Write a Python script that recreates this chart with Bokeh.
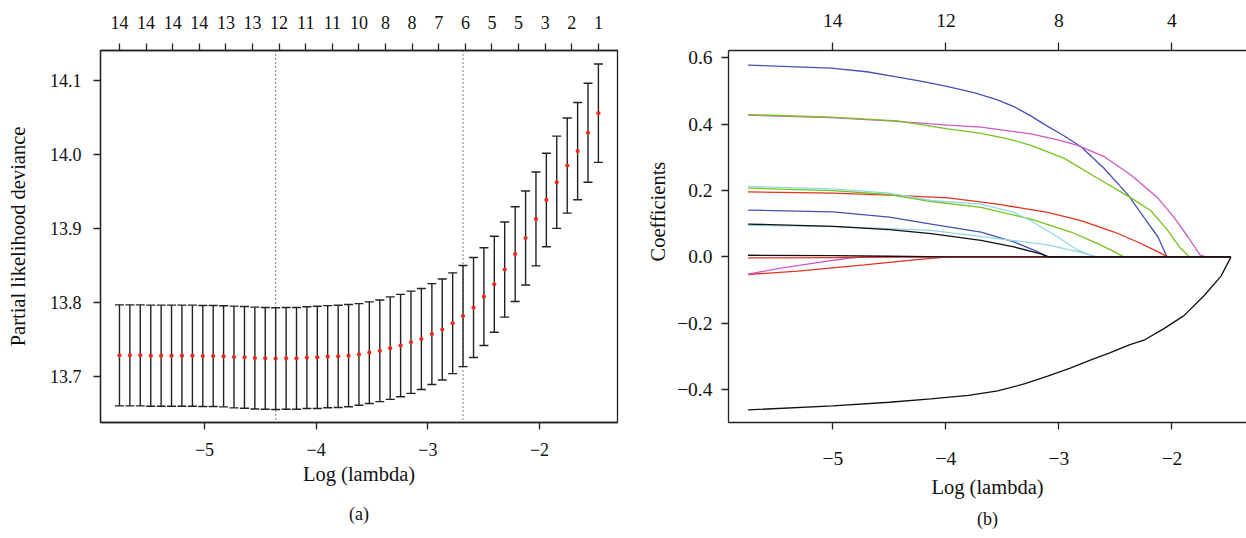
from bokeh.plotting import figure
from bokeh.models import (Range1d, LinearAxis, FixedTicker, CustomJSTickFormatter,
                          Span, Whisker, TeeHead, ColumnDataSource, Title)
from bokeh.layouts import row
from bokeh.embed import file_html
from bokeh.resources import INLINE

FONT = "Liberation Serif"

# ---------------- Panel (a): cross-validation curve ----------------
log_lambda = [-5.761, -5.668, -5.575, -5.481, -5.388, -5.295, -5.202, -5.108, -5.015, -4.922,
              -4.829, -4.736, -4.642, -4.549, -4.456, -4.363, -4.269, -4.176, -4.083, -3.990,
              -3.897, -3.803, -3.710, -3.617, -3.524, -3.430, -3.337, -3.244, -3.151, -3.058,
              -2.964, -2.871, -2.778, -2.685, -2.591, -2.498, -2.405, -2.312, -2.218, -2.125,
              -2.032, -1.939, -1.846, -1.752, -1.659, -1.566, -1.473]
cv_mean = [13.7280, 13.7280, 13.7280, 13.7276, 13.7276, 13.7276, 13.7276, 13.7276, 13.7271, 13.7271,
           13.7267, 13.7258, 13.7253, 13.7244, 13.7240, 13.7236, 13.7240, 13.7240, 13.7249, 13.7253,
           13.7262, 13.7267, 13.7276, 13.7293, 13.7316, 13.7342, 13.7378, 13.7413, 13.7458, 13.7502,
           13.7569, 13.7631, 13.7716, 13.7813, 13.7929, 13.8076, 13.8244, 13.8444, 13.8653, 13.8871,
           13.9129, 13.9387, 13.9627, 13.9853, 14.0049, 14.0298, 14.0564]
cv_sd = [0.0685, 0.0685, 0.0685, 0.0685, 0.0685, 0.0685, 0.0685, 0.0685, 0.0685, 0.0685,
         0.0685, 0.0690, 0.0690, 0.0690, 0.0690, 0.0690, 0.0690, 0.0690, 0.0690, 0.0693,
         0.0693, 0.0693, 0.0693, 0.0689, 0.0689, 0.0689, 0.0695, 0.0694, 0.0693, 0.0685,
         0.0684, 0.0685, 0.0683, 0.0685, 0.0678, 0.0662, 0.0651, 0.0645, 0.0642, 0.0638,
         0.0636, 0.0634, 0.0625, 0.0645, 0.0660, 0.0671, 0.0667]
top_a_pos = [-5.761, -5.523, -5.285, -5.046, -4.808, -4.570, -4.332, -4.093, -3.855, -3.617,
             -3.379, -3.141, -2.902, -2.664, -2.426, -2.188, -1.949, -1.711, -1.473]
top_a_labels = ["14", "14", "14", "14", "13", "13", "12", "11", "11", "10",
                "8", "8", "7", "6", "5", "5", "3", "2", "1"]
log_lambda_min = -4.363
log_lambda_1se = -2.685
x_ticks = [-5, -4, -3, -2]
y_ticks_a = [13.7, 13.8, 13.9, 14.0, 14.1]

# ---------------- Panel (b): coefficient paths ----------------
blue_x = [-5.75, -5.018, -4.7, -4.425, -4.2, -3.982, -3.752, -3.55, -3.398, -3.25, -3.133, -2.956, -2.805, -2.602, -2.389, -2.248, -2.124, -2.044, -1.478]
blue_y = [0.578, 0.569, 0.558, 0.542, 0.528, 0.513, 0.495, 0.474, 0.453, 0.425, 0.400, 0.365, 0.332, 0.267, 0.187, 0.119, 0.060, 0.0, 0.0]
magenta_x = [-5.75, -5.018, -4.5, -3.982, -3.69, -3.248, -3.0, -2.835, -2.599, -2.363, -2.127, -1.982, -1.858, -1.752, -1.70, -1.478]
magenta_y = [0.427, 0.420, 0.410, 0.397, 0.391, 0.371, 0.352, 0.336, 0.302, 0.247, 0.178, 0.119, 0.060, 0.006, 0.0, 0.0]
green_x = [-5.75, -5.018, -4.43, -3.985, -3.69, -3.45, -3.248, -2.953, -2.658, -2.363, -2.186, -2.038, -1.935, -1.847, -1.478]
green_y = [0.429, 0.421, 0.410, 0.386, 0.372, 0.356, 0.336, 0.297, 0.237, 0.178, 0.139, 0.080, 0.030, 0.0, 0.0]
red_x = [-5.75, -5.0, -4.5, -3.98, -3.542, -3.1, -2.805, -2.511, -2.304, -2.127, -2.038, -1.478]
red_y = [0.196, 0.192, 0.186, 0.178, 0.159, 0.134, 0.109, 0.075, 0.045, 0.016, 0.0, 0.0]
green2_x = [-5.75, -5.0, -4.5, -4.13, -3.69, -3.248, -2.894, -2.658, -2.511, -2.427, -1.478]
green2_y = [0.207, 0.200, 0.188, 0.167, 0.149, 0.114, 0.075, 0.040, 0.016, 0.0, 0.0]
cyan_x = [-5.75, -5.0, -4.5, -4.13, -3.69, -3.398, -3.248, -3.01, -2.835, -2.688, -1.478]
cyan_y = [0.212, 0.205, 0.192, 0.170, 0.159, 0.134, 0.109, 0.060, 0.021, 0.0, 0.0]
blue2_x = [-5.75, -5.0, -4.5, -4.13, -3.69, -3.398, -3.19, -3.1, -1.478]
blue2_y = [0.141, 0.136, 0.120, 0.099, 0.075, 0.045, 0.016, 0.0, 0.0]
cyan2_x = [-5.75, -5.0, -4.5, -4.13, -3.542, -3.1, -2.835, -2.658, -1.478]
cyan2_y = [0.095, 0.092, 0.085, 0.080, 0.055, 0.036, 0.016, 0.0, 0.0]
black2_x = [-5.75, -5.0, -4.5, -4.13, -3.69, -3.398, -3.16, -3.09, -1.478]
black2_y = [0.099, 0.092, 0.082, 0.070, 0.050, 0.030, 0.009, 0.0, 0.0]
black3_x = [-5.75, -5.0, -4.5, -4.0, -1.478]
black3_y = [0.005, 0.004, 0.002, 0.0, 0.0]
red_nz_x = [-5.75, -5.0, -4.3, -1.478]
red_nz_y = [-0.003, -0.002, 0.0, 0.0]
red_low_x = [-5.75, -5.31, -4.72, -4.28, -3.98, -1.478]
red_low_y = [-0.053, -0.043, -0.024, -0.009, 0.0, 0.0]
mag_low_x = [-5.75, -5.46, -5.165, -4.87, -4.72, -1.478]
mag_low_y = [-0.052, -0.034, -0.019, -0.004, 0.0, 0.0]
black_bot_x = [-5.75, -5.0, -4.5, -4.133, -3.8, -3.542, -3.3, -3.1, -2.9, -2.717, -2.55, -2.378,
               -2.248, -2.071, -1.894, -1.717, -1.566, -1.478]
black_bot_y = [-0.461, -0.449, -0.438, -0.428, -0.417, -0.404, -0.382, -0.359, -0.335, -0.310, -0.289, -0.265,
               -0.251, -0.216, -0.177, -0.117, -0.058, 0.0]
top_b_pos = [-5, -4, -3, -2]
top_b_labels = ["14", "12", "8", "4"]
y_ticks_b = [-0.4, -0.2, 0.0, 0.2, 0.4, 0.6]

C_BLUE = "#4352b4"
C_MAG = "#d257c6"
C_GREEN = "#74c41a"
C_RED = "#e5321f"
C_CYAN = "#93d6e8"
C_BLACK = "#111111"

MINUS_FMT = "return (tick < 0 ? '\\u2212' : '') + Math.abs(tick).toFixed(%d);"
LABEL_FMT = """
let best = 0;
for (let i = 0; i < pos.length; i++) {
  if (Math.abs(pos[i] - tick) < Math.abs(pos[best] - tick)) { best = i; }
}
return labs[best];
"""


def style_axis(ax, size, tick_out=7, standoff=9):
    ax.major_label_text_font = FONT
    ax.major_label_text_font_size = size
    ax.major_label_text_color = "#111111"
    ax.axis_label_text_font = FONT
    ax.axis_label_text_font_style = "normal"
    ax.axis_label_text_font_size = "20.5px"
    ax.axis_label_text_color = "#111111"
    ax.major_tick_in = 0
    ax.major_tick_out = tick_out
    ax.minor_tick_in = 0
    ax.minor_tick_out = 0
    ax.major_tick_line_color = "#222222"
    ax.major_tick_line_width = 1.3
    ax.axis_line_color = "#222222"
    ax.axis_line_width = 1.3
    ax.major_label_standoff = standoff


# ---- figure a ----
pa = figure(width=628, height=538, x_range=Range1d(-5.931, -1.302), y_range=Range1d(13.637, 14.1413),
            output_backend="svg", toolbar_location=None,
            min_border_left=100, min_border_right=11, min_border_top=49, min_border_bottom=111)
pa.grid.visible = False
pa.outline_line_color = "#222222"
pa.outline_line_width = 1.3
pa.background_fill_color = "white"
pa.border_fill_color = "white"

pa.xaxis.ticker = FixedTicker(ticks=x_ticks)
pa.xaxis.formatter = CustomJSTickFormatter(code=MINUS_FMT % 0)
pa.xaxis.axis_label = "Log (lambda)"
pa.yaxis.ticker = FixedTicker(ticks=y_ticks_a)
pa.yaxis.formatter = CustomJSTickFormatter(code=MINUS_FMT % 1)
pa.yaxis.axis_label = "Partial likelihood deviance"
style_axis(pa.xaxis[0], "18px", 7, 13)
style_axis(pa.yaxis[0], "18px", 7, 12)
pa.xaxis.axis_label_standoff = 4
pa.yaxis.axis_label_standoff = 18

top_a = LinearAxis(ticker=FixedTicker(ticks=top_a_pos),
                   formatter=CustomJSTickFormatter(args=dict(pos=top_a_pos, labs=top_a_labels), code=LABEL_FMT))
style_axis(top_a, "18px", 7, 15)
pa.add_layout(top_a, "above")

src_a = ColumnDataSource(dict(x=log_lambda, m=cv_mean,
                              up=[m + s for m, s in zip(cv_mean, cv_sd)],
                              lo=[m - s for m, s in zip(cv_mean, cv_sd)]))
wh = Whisker(source=src_a, base="x", upper="up", lower="lo", dimension="height",
             line_color="#222222", line_width=1.4,
             upper_head=TeeHead(size=9, line_color="#222222", line_width=1.4),
             lower_head=TeeHead(size=9, line_color="#222222", line_width=1.4))
pa.add_layout(wh)
pa.scatter("x", "m", source=src_a, size=4.2, color="#ee2a1b", line_color=None)
for loc in (log_lambda_min, log_lambda_1se):
    pa.add_layout(Span(location=loc, dimension="height", line_color="#333333",
                       line_width=1.2, line_dash="1 3"))

cap_a = Title(text="(a)", align="center", text_font=FONT, text_font_style="normal",
              text_font_size="18px", text_color="#111111", standoff=29)
pa.add_layout(cap_a, "below")

# ---- figure b ----
pb = figure(width=618, height=538, x_range=Range1d(-5.923, -1.341), y_range=Range1d(-0.499, 0.622),
            output_backend="svg", toolbar_location=None,
            min_border_left=100, min_border_right=0, min_border_top=50, min_border_bottom=109)
pb.grid.visible = False
pb.outline_line_color = None
pb.background_fill_color = "white"
pb.border_fill_color = "white"

pb.xaxis.ticker = FixedTicker(ticks=x_ticks)
pb.xaxis.formatter = CustomJSTickFormatter(code=MINUS_FMT % 0)
pb.xaxis.axis_label = "Log (lambda)"
pb.yaxis.ticker = FixedTicker(ticks=y_ticks_b)
pb.yaxis.formatter = CustomJSTickFormatter(code=MINUS_FMT % 1)
style_axis(pb.xaxis[0], "19.5px", 7, 22)
style_axis(pb.yaxis[0], "19.5px", 7, 9)
pb.xaxis.axis_label_standoff = 8

top_b = LinearAxis(ticker=FixedTicker(ticks=top_b_pos),
                   formatter=CustomJSTickFormatter(args=dict(pos=top_b_pos, labs=top_b_labels), code=LABEL_FMT))
style_axis(top_b, "19.5px", 8, 16)
pb.add_layout(top_b, "above")

ylab_b = Title(text="Coefficients", align="left", text_font=FONT, text_font_style="normal",
               text_font_size="20.5px", text_color="#111111", offset=161, standoff=12)
pb.add_layout(ylab_b, "left")

paths = [
    (blue_x, blue_y, C_BLUE), (magenta_x, magenta_y, C_MAG), (green_x, green_y, C_GREEN),
    (red_x, red_y, C_RED), (green2_x, green2_y, C_GREEN), (cyan_x, cyan_y, C_CYAN),
    (blue2_x, blue2_y, C_BLUE), (cyan2_x, cyan2_y, C_CYAN), (red_low_x, red_low_y, C_RED),
    (mag_low_x, mag_low_y, C_MAG), (red_nz_x, red_nz_y, C_RED),
    (black2_x, black2_y, C_BLACK), (black3_x, black3_y, C_BLACK), (black_bot_x, black_bot_y, C_BLACK),
]
for xs, ys, col in paths:
    pb.line(xs, ys, line_color=col, line_width=1.3)

cap_b = Title(text="(b)", align="center", text_font=FONT, text_font_style="normal",
              text_font_size="18px", text_color="#111111", standoff=12)
pb.add_layout(cap_b, "below")

layout = row(pa, pb, spacing=0)
open("out.html", "w").write(file_html(layout, INLINE))
